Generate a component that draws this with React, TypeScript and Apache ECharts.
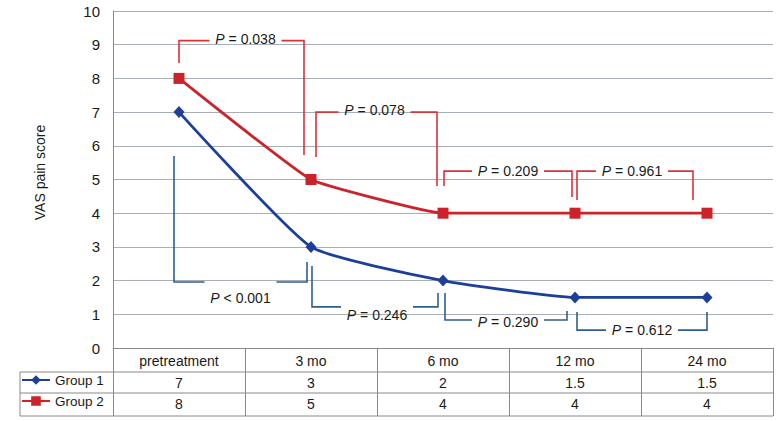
import React, { useEffect, useRef } from 'react';
import * as echarts from 'echarts';

// ---- data ----
const categories = ['pretreatment', '3 mo', '6 mo', '12 mo', '24 mo'];
const seriesNames = ['Group 1', 'Group 2'];
const group1 = [7, 3, 2, 1.5, 1.5];
const group2 = [8, 5, 4, 4, 4];
const yMin = 0;
const yMax = 10;
const yInterval = 1;
// comparisons between consecutive time points
const group2Pairs = [[0, 1], [1, 2], [2, 3], [3, 4]];
const group2P = ['= 0.038', '= 0.078', '= 0.209', '= 0.961'];
const group1Pairs = [[0, 1], [1, 2], [2, 3], [3, 4]];
const group1P = ['< 0.001', '= 0.246', '= 0.290', '= 0.612'];

// ---- layout (bracket geometry, in data units of the value axis + pixel nudges) ----
const redGeom = [
  { dx0: 0, dx1: -7, v0: 8.46, vH: 9.12, v1: 5.73, tdx: 4, tdy: -2 },
  { dx0: 5, dx1: -6, v0: 5.67, vH: 7.0, v1: 4.81, tdx: -2, tdy: -2 },
  { dx0: 1, dx1: -3, v0: 4.81, vH: 5.25, v1: 4.48, tdx: 0, tdy: 0 },
  { dx0: 2, dx1: -14, v0: 4.39, vH: 5.25, v1: 4.39, tdx: -3, tdy: 0 },
];
const blueGeom = [
  { dx0: -5, dx1: -4, v0: 5.7, vH: 1.96, v1: 2.55, tdx: 0, tdy: 16 },
  { dx0: 1, dx1: -5, v0: 2.43, vH: 1.22, v1: 1.63, tdx: 2, tdy: 8 },
  { dx0: 2, dx1: -8, v0: 1.63, vH: 0.83, v1: 1.1, tdx: 2, tdy: 2 },
  { dx0: 2, dx1: 0, v0: 1.07, vH: 0.53, v1: 1.07, tdx: 0, tdy: 0 },
];

const FONT = '"Liberation Sans", Arial, Helvetica, sans-serif';
const TXT = '#1a1a1a';
const BLUE = '#1c3f99';
const RED = '#cc2229';
const RED_BR = '#d8343c';
const BLUE_BR = '#2f5f8e';
const GRID_C = '#a7aeb6';
const TABLE_C = '#8a8a8a';

const G_LEFT = 113;
const G_RIGHT = 7;
const G_TOP = 11;
const G_BOTTOM = 73;
const ROW1 = 24;
const ROW2 = 45;
const ROW3 = 68;
const TABLE_LEFT = 20;

export default function App() {
  const ref = useRef<HTMLDivElement>(null);
  useEffect(() => {
    if (!ref.current) return;
    const chart = echarts.init(ref.current, null, { renderer: 'svg' });
    const option: any = {
      animation: false,
      backgroundColor: '#ffffff',
      textStyle: { fontFamily: FONT },
      grid: { left: G_LEFT, right: G_RIGHT, top: G_TOP, bottom: G_BOTTOM, containLabel: false },
      legend: {
        data: seriesNames,
        orient: 'vertical',
        left: TABLE_LEFT + 1,
        top: 373,
        itemGap: 7,
        itemWidth: 28,
        itemHeight: 12,
        padding: 0,
        textStyle: { fontSize: 13.5, color: TXT, fontFamily: FONT, padding: [0, 0, 0, 0] },
      },
      xAxis: [
        {
          type: 'category',
          data: categories,
          position: 'bottom',
          boundaryGap: true,
          axisLine: { show: true, lineStyle: { color: TABLE_C, width: 1 } },
          axisTick: { show: true, length: ROW3, lineStyle: { color: TABLE_C, width: 1 } },
          axisLabel: { color: TXT, fontSize: 14, fontFamily: FONT, margin: 6, interval: 0 },
          splitLine: { show: false },
        },
        {
          type: 'category',
          data: group1.map(String),
          position: 'bottom',
          offset: ROW1,
          axisLine: { show: false },
          axisTick: { show: false },
          axisLabel: { color: TXT, fontSize: 14, fontFamily: FONT, margin: 4, interval: 0 },
        },
        {
          type: 'category',
          data: group2.map(String),
          position: 'bottom',
          offset: ROW2,
          axisLine: { show: false },
          axisTick: { show: false },
          axisLabel: { color: TXT, fontSize: 14, fontFamily: FONT, margin: 4, interval: 0 },
        },
      ],
      yAxis: {
        type: 'value',
        min: yMin,
        max: yMax,
        interval: yInterval,
        name: 'VAS pain score',
        nameLocation: 'middle',
        nameGap: 66,
        nameTextStyle: { color: TXT, fontSize: 14, fontFamily: FONT, padding: [0, 0, 0, 14] },
        axisLine: { show: true, lineStyle: { color: TABLE_C, width: 1 } },
        axisTick: { show: false },
        axisLabel: { color: TXT, fontSize: 15, fontFamily: FONT, margin: 13 },
        splitLine: { show: true, lineStyle: { color: GRID_C, width: 1 } },
      },
      series: [
        {
          name: seriesNames[0],
          type: 'line',
          data: group1,
          smooth: 0.15,
          symbol: 'diamond',
          symbolSize: [11, 12],
          lineStyle: { color: BLUE, width: 2.8 },
          itemStyle: { color: BLUE },
          z: 3,
        },
        {
          name: seriesNames[1],
          type: 'line',
          data: group2,
          smooth: 0.1,
          symbol: 'rect',
          symbolSize: 11,
          lineStyle: { color: RED, width: 2.8 },
          itemStyle: { color: RED },
          z: 3,
        },
      ],
    };
    chart.setOption(option);

    const px = (i: number, v: number) => chart.convertToPixel({ seriesIndex: 0 }, [i, v]) as number[];
    const elements: any[] = [];
    const halfGap = 36;
    const addBracket = (pair: number[], g: any, label: string, color: string) => {
      const a = px(pair[0], g.v0);
      const h = px(pair[0], g.vH);
      const b = px(pair[1], g.v1);
      const x0 = a[0] + g.dx0;
      const x1 = b[0] + g.dx1;
      const yH = h[1];
      const cx = (x0 + x1) / 2 + g.tdx;
      elements.push({
        type: 'polyline',
        silent: true,
        shape: { points: [[x0, a[1]], [x0, yH], [cx - halfGap, yH]] },
        style: { stroke: color, lineWidth: 1.6, fill: null },
        z: 10,
      });
      elements.push({
        type: 'polyline',
        silent: true,
        shape: { points: [[cx + halfGap, yH], [x1, yH], [x1, b[1]]] },
        style: { stroke: color, lineWidth: 1.6, fill: null },
        z: 10,
      });
      elements.push({
        type: 'text',
        silent: true,
        x: cx,
        y: yH + g.tdy,
        style: {
          text: '{i|P} ' + label,
          fontSize: 14,
          fontFamily: FONT,
          fill: TXT,
          align: 'center',
          verticalAlign: 'middle',
          rich: { i: { fontStyle: 'italic', fontSize: 14, fontFamily: FONT, fill: TXT } },
        },
        z: 11,
      });
    };
    group2Pairs.forEach((p, k) => addBracket(p, redGeom[k], group2P[k], RED_BR));
    group1Pairs.forEach((p, k) => addBracket(p, blueGeom[k], group1P[k], BLUE_BR));

    // table frame lines
    const W = 780;
    const H = 421;
    const axisY = H - G_BOTTOM;
    const right = W - G_RIGHT;
    [ROW1, ROW2, ROW3].forEach((off) => {
      elements.push({
        type: 'line',
        silent: true,
        shape: { x1: TABLE_LEFT, y1: axisY + off, x2: right, y2: axisY + off },
        style: { stroke: TABLE_C, lineWidth: 1 },
      });
    });
    elements.push({
      type: 'line',
      silent: true,
      shape: { x1: TABLE_LEFT, y1: axisY + ROW1, x2: TABLE_LEFT, y2: axisY + ROW3 },
      style: { stroke: TABLE_C, lineWidth: 1 },
    });
    chart.setOption({ graphic: elements });

    return () => chart.dispose();
  }, []);
  return (
    <div
      ref={ref}
      style={{ position: 'fixed', left: 0, top: 0, width: 780, height: 421, background: '#fff' }}
    />
  );
}
